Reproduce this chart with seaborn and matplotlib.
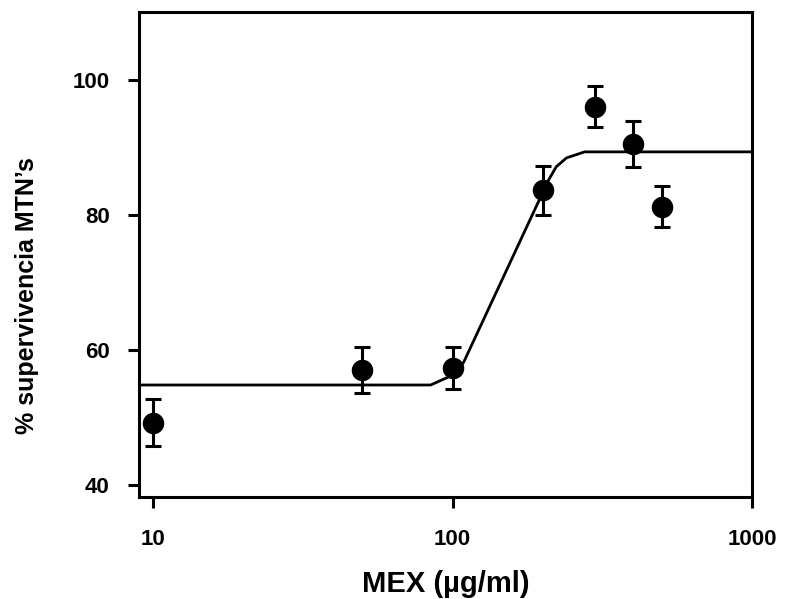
import numpy as np
import pandas as pd
import matplotlib
matplotlib.use("Agg")
import matplotlib.pyplot as plt
import seaborn as sns

# data
dose = [10, 50, 100, 200, 300, 400, 500]
survival = [49.2, 57.0, 57.3, 83.6, 96.0, 90.4, 81.2]
sem = [3.5, 3.4, 3.1, 3.6, 3.05, 3.4, 3.05]

# fitted curve
fit_x = [9, 84.5, 101.7, 109, 209, 222, 240, 276, 1000]
fit_y = [54.8, 54.8, 56.4, 58.2, 85.1, 87.1, 88.4, 89.3, 89.3]

x_ticks = [10, 100, 1000]
y_ticks = [40, 60, 80, 100]

pts = pd.DataFrame({"dose": dose, "survival": survival, "sem": sem})
fit = pd.DataFrame({"x": fit_x, "y": fit_y})

sns.set_style("ticks")
plt.rcParams['font.family'] = ['Liberation Sans', 'DejaVu Sans']
plt.rcParams['text.color'] = 'black'
plt.rcParams['axes.labelcolor'] = 'black'

fig = plt.figure(figsize=(7.85, 5.99), dpi=100)
ax = fig.add_axes([0.177, 0.170, 0.781, 0.810])

sns.lineplot(data=fit, x="x", y="y", color="black", linewidth=2.0,
             sort=False, ax=ax)
ax.errorbar(pts["dose"], pts["survival"], yerr=pts["sem"], fmt="none",
            ecolor="black", elinewidth=2.2, capsize=5.5, capthick=2.2,
            zorder=3)
sns.scatterplot(data=pts, x="dose", y="survival", color="black", s=240,
                edgecolor="black", linewidth=0, zorder=4, ax=ax)

ax.set_xscale("log")
ax.set_xlim(8.97, 1000)
ax.set_ylim(38.2, 110)
ax.set_xticks(x_ticks)
ax.set_xticklabels([str(t) for t in x_ticks])
ax.set_yticks(y_ticks)
ax.minorticks_off()

for s in ax.spines.values():
    s.set_linewidth(2.2)
    s.set_color("black")
ax.tick_params(axis="both", direction="out", length=8, width=2.2,
               labelsize=16, colors="black", labelcolor="black")
ax.tick_params(axis="y", pad=13)
ax.tick_params(axis="x", pad=15)
for lab in ax.get_xticklabels() + ax.get_yticklabels():
    lab.set_fontweight("bold")

ax.set_xlabel("MEX (\u00b5g/ml)", fontsize=21, fontweight="bold", labelpad=14)
ax.set_ylabel("% supervivencia MTN\u2019s", fontsize=18, fontweight="bold")
ax.yaxis.set_label_coords(-0.163, 0.415)

fig.savefig("out.png", dpi=100)
